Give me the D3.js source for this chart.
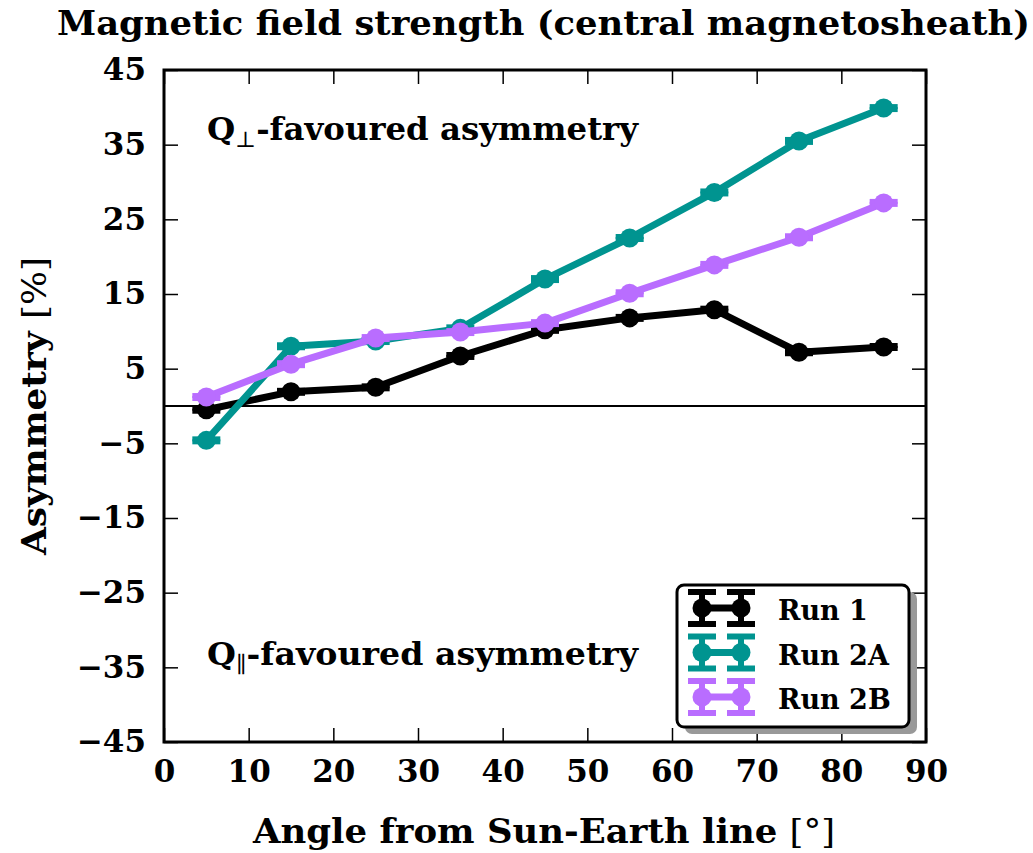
<!DOCTYPE html>
<html lang="en">
<head>
    <meta charset="UTF-8">
    <title>Magnetic field strength</title>
    <script src="https://d3js.org/d3.v7.min.js"></script>
    <style>
        body {
            margin: 0;
            background: white;
        }
        svg text {
            font-family: "DejaVu Serif", serif;
            font-weight: bold;
            fill: black;
        }
    </style>
</head>
<body>
    <svg width="1033" height="853"></svg>
    <script>
        // Data
        const angles = [5, 15, 25, 35, 45, 55, 65, 75, 85];
        const run1 = [-0.5, 1.9, 2.5, 6.7, 10.2, 11.8, 12.9, 7.2, 7.9];
        const run2A = [-4.6, 8.0, 8.7, 10.4, 17.0, 22.5, 28.6, 35.5, 39.9];
        const run2B = [1.2, 5.6, 9.1, 9.9, 11.1, 15.1, 18.9, 22.6, 27.2];
        const errors = [0.2, 0.2, 0.2, 0.2, 0.2, 0.2, 0.2, 0.2, 0.2];
        const seriesNames = ["Run 1", "Run 2A", "Run 2B"];
        const seriesColors = ["#000000", "#009490", "#b96dff"];
        const xTicks = [0, 10, 20, 30, 40, 50, 60, 70, 80, 90];
        const yTicks = [-45, -35, -25, -15, -5, 5, 15, 25, 35, 45];

        const margin = {top: 70, right: 107, bottom: 111, left: 164},
              width = 1033 - margin.left - margin.right,
              height = 853 - margin.top - margin.bottom;

        const svg = d3.select("svg");
        const g = svg.append("g")
                     .attr("transform", `translate(${margin.left},${margin.top})`);

        const x = d3.scaleLinear().domain([0, 90]).range([0, width]);
        const y = d3.scaleLinear().domain([-45, 45]).range([height, 0]);

        const fmt = d => (d < 0 ? "\u2212" + Math.abs(d) : d);

        // Axes with inward ticks on all four sides
        const tickLen = 14;
        g.append("g").attr("transform", `translate(0,${height})`)
            .call(d3.axisBottom(x).tickValues(xTicks).tickSize(-tickLen).tickPadding(18).tickFormat(fmt));
        g.append("g")
            .call(d3.axisLeft(y).tickValues(yTicks).tickSize(-tickLen).tickPadding(18).tickFormat(fmt));
        g.append("g").call(d3.axisTop(x).tickValues(xTicks).tickSize(-tickLen).tickFormat(""));
        g.append("g").attr("transform", `translate(${width},0)`)
            .call(d3.axisRight(y).tickValues(yTicks).tickSize(-tickLen).tickFormat(""));
        g.selectAll(".domain").remove();
        g.selectAll(".tick line").attr("stroke", "black").attr("stroke-width", 1.5);
        g.selectAll(".tick text").style("font-size", "31px").attr("fill", "black");

        // zero line
        g.append("line")
         .attr("x1", 0).attr("x2", width)
         .attr("y1", y(0)).attr("y2", y(0))
         .attr("stroke", "black").attr("stroke-width", 2);

        // annotations
        function annotation(yPos, sym) {
            const t = g.append("text").attr("x", 43).attr("y", yPos)
                       .style("font-size", "32px")
                       .attr("textLength", 431).attr("lengthAdjust", "spacingAndGlyphs");
            t.append("tspan").text("Q");
            t.append("tspan").attr("dy", 7).style("font-size", "22px").style("font-weight", "normal").text(sym);
            t.append("tspan").attr("dy", -7).text("-favoured asymmetry");
        }
        annotation(70, "\u22A5");
        annotation(595, "\u2225");

        // series
        const series = [run1, run2A, run2B];
        const line = d3.line().x((d, i) => x(angles[i])).y(d => y(d));
        const capW = 14;

        series.forEach((vals, s) => {
            const col = seriesColors[s];
            const sg = g.append("g");
            // error bars
            vals.forEach((v, i) => {
                const cx = x(angles[i]);
                sg.append("line")
                  .attr("x1", cx).attr("x2", cx)
                  .attr("y1", y(v - errors[i])).attr("y2", y(v + errors[i]))
                  .attr("stroke", col).attr("stroke-width", 4);
                [v - errors[i], v + errors[i]].forEach(e => {
                    sg.append("line")
                      .attr("x1", cx - capW).attr("x2", cx + capW)
                      .attr("y1", y(e)).attr("y2", y(e))
                      .attr("stroke", col).attr("stroke-width", 5);
                });
            });
            sg.append("path")
              .datum(vals)
              .attr("d", line)
              .attr("fill", "none")
              .attr("stroke", col)
              .attr("stroke-width", 7)
              .attr("stroke-linejoin", "round");
            sg.selectAll("circle")
              .data(vals)
              .enter().append("circle")
              .attr("cx", (d, i) => x(angles[i]))
              .attr("cy", d => y(d))
              .attr("r", 9.5)
              .attr("fill", col);
        });

        // frame
        g.append("rect")
         .attr("width", width).attr("height", height)
         .attr("fill", "none").attr("stroke", "black").attr("stroke-width", 3);

        // legend
        const lg = svg.append("g").attr("transform", "translate(677,585)");
        lg.append("rect")
          .attr("x", 8).attr("y", 7).attr("width", 232).attr("height", 142)
          .attr("rx", 7).attr("fill", "#999999");
        lg.append("rect")
          .attr("width", 232).attr("height", 142)
          .attr("rx", 7).attr("fill", "white").attr("stroke", "black").attr("stroke-width", 3);
        seriesNames.forEach((name, s) => {
            const col = seriesColors[s];
            const ly = 23 + s * 44.5;
            const item = lg.append("g").attr("transform", `translate(0,${ly})`);
            item.append("line").attr("x1", 25).attr("x2", 64).attr("y1", 0).attr("y2", 0)
                .attr("stroke", col).attr("stroke-width", 7);
            [25, 64].forEach(px => {
                item.append("line").attr("x1", px).attr("x2", px).attr("y1", -16).attr("y2", 16)
                    .attr("stroke", col).attr("stroke-width", 6);
                [-16, 16].forEach(py => {
                    item.append("line").attr("x1", px - capW).attr("x2", px + capW)
                        .attr("y1", py).attr("y2", py)
                        .attr("stroke", col).attr("stroke-width", 6);
                });
                item.append("circle").attr("cx", px).attr("cy", 0).attr("r", 9.5).attr("fill", col);
            });
            item.append("text").attr("x", 101).attr("y", 12).style("font-size", "27px").text(name);
        });

        // title and axis labels
        svg.append("text")
           .attr("x", 57).attr("y", 35)
           .style("font-size", "33px")
           .attr("textLength", 973).attr("lengthAdjust", "spacingAndGlyphs")
           .text("Magnetic field strength (central magnetosheath)");

        const xl = svg.append("text")
           .attr("x", 253).attr("y", 843)
           .style("font-size", "34px")
           .attr("textLength", 582).attr("lengthAdjust", "spacingAndGlyphs");
        xl.append("tspan").text("Angle from Sun-Earth line ");
        xl.append("tspan").style("font-weight", "normal").text("[\u00B0]");

        const yl = svg.append("text")
           .attr("transform", "translate(46,555) rotate(-90)")
           .style("font-size", "34px")
           .attr("textLength", 298).attr("lengthAdjust", "spacingAndGlyphs");
        yl.append("tspan").text("Asymmetry ");
        yl.append("tspan").style("font-weight", "normal").text("[%]");
    </script>
</body>
</html>
